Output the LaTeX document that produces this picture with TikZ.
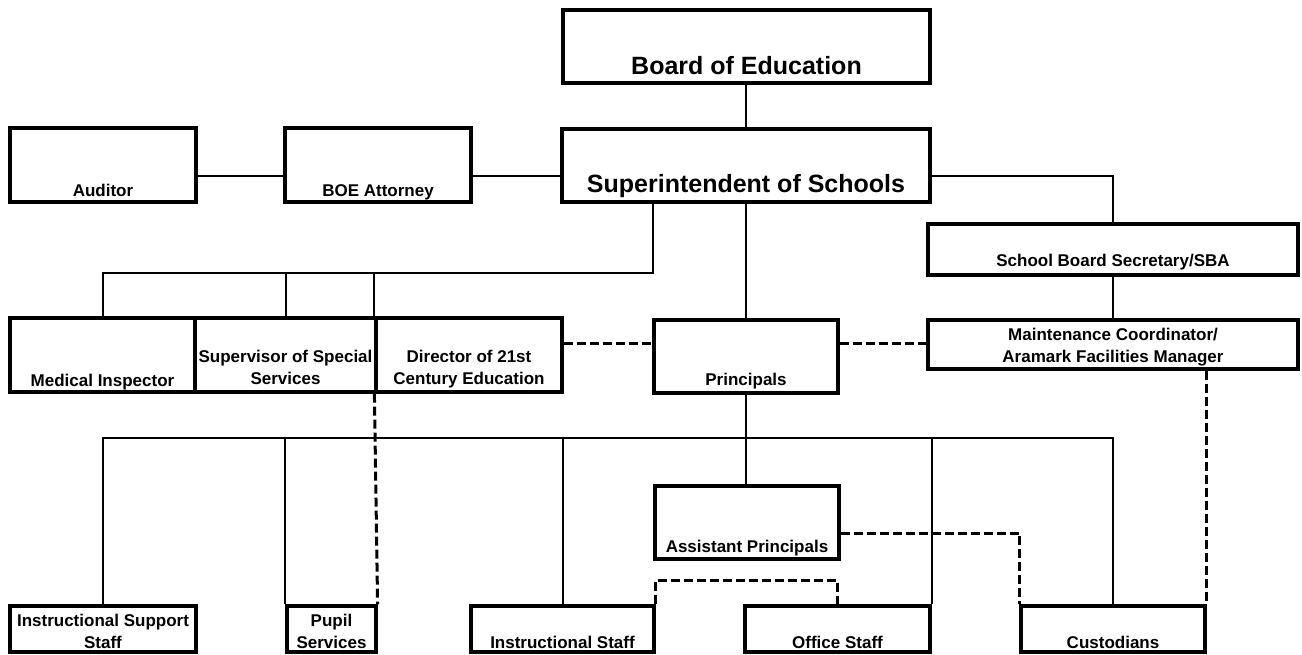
\documentclass[tikz,border=0pt]{standalone}
\usepackage{fontspec}
\setmainfont{Liberation Sans}
\begin{document}
\begin{tikzpicture}[x=1pt,y=-1pt,
  box/.style={draw, line width=3.2pt, inner sep=0pt, align=center,
    font=\fontsize{17}{22}\selectfont\bfseries},
  bigbox/.style={box, font=\fontsize{25}{30}\selectfont\bfseries},
  dims/.style n args={4}{minimum width=#1, minimum height=#2, text height=#3, text depth=#4},
  link/.style={line width=2pt},
  dotlink/.style={line width=3pt, dash pattern=on 9pt off 4pt}]
\useasboundingbox (0,0) rectangle (1302,655);

% top level
\node[bigbox, dims={367pt}{73pt}{65pt}{8pt}] (board) at (746.5,46.5) {Board of Education};
\node[bigbox, dims={368pt}{73pt}{64pt}{9pt}] (super) at (746,165.5) {Superintendent of Schools};
\node[box, dims={186pt}{74pt}{69pt}{5pt}] (auditor) at (103,165) {Auditor};
\node[box, dims={186pt}{74pt}{69pt}{5pt}] (attorney) at (378,165) {BOE Attorney};
\node[box, dims={370pt}{51pt}{43pt}{8pt}] (sbs) at (1113,249.5) {School Board Secretary/SBA};

% second level
\node[box, dims={185pt}{74pt}{68pt}{6pt}] (medical) at (102.5,355) {Medical Inspector};
\node[box, dims={181pt}{74pt}{66pt}{8pt}] (supervisor) at (285.5,355)
  {\begin{tabular}[b]{@{}c@{}}Supervisor of Special\\Services\end{tabular}};
\node[box, dims={186pt}{74pt}{66pt}{8pt}] (director) at (469,355)
  {\begin{tabular}[b]{@{}c@{}}Director of 21st\\Century Education\end{tabular}};
\node[box, dims={184pt}{73pt}{65pt}{8pt}] (principals) at (746,356.5) {Principals};
\node[box, dims={370pt}{49pt}{42pt}{7pt}] (maint) at (1113,344.5)
  {\begin{tabular}[b]{@{}c@{}}Maintenance Coordinator/\\Aramark Facilities Manager\end{tabular}};
\node[box, dims={184pt}{73pt}{66pt}{7pt}] (asst) at (747,522.5) {Assistant Principals};

% staff level
\node[box, dims={186pt}{46pt}{42pt}{4pt}] (isupport) at (103,629)
  {\begin{tabular}[b]{@{}c@{}}Instructional Support\\Staff\end{tabular}};
\node[box, dims={89pt}{46pt}{42pt}{4pt}] (pupil) at (331.5,629)
  {\begin{tabular}[b]{@{}c@{}}Pupil\\Services\end{tabular}};
\node[box, dims={183pt}{46pt}{42pt}{4pt}] (istaff) at (562.5,629) {Instructional Staff};
\node[box, dims={185pt}{46pt}{42pt}{4pt}] (office) at (837.5,629) {Office Staff};
\node[box, dims={184pt}{46pt}{42pt}{4pt}] (custodians) at (1113,629) {Custodians};

% solid reporting lines
\draw[link] (super.north |- board.south) -- (super.north);
\path ([yshift=-11pt]auditor.east) coordinate (a1);
\draw[link] (a1) -- (a1 -| attorney.west);
\draw[link] (a1 -| attorney.east) -- (a1 -| super.west);
\draw[link] (a1 -| super.east) -| (sbs.north);
\draw[link] (sbs.south) -- (maint.north);
\draw[link] (super.south) -- (principals.north);

\coordinate (sbranch) at (653,273);
\draw[link] ([xshift=-93pt]super.south) -- (sbranch) -| (medical.north);
\draw[link] (sbranch) -| (supervisor.north);
\draw[link] (sbranch) -| (director.north west);

\draw[link] (principals.south) -- (principals.south |- asst.north);
\coordinate (pbus) at (746,438);
\draw[link] (pbus) -| (isupport.north);
\draw[link] (pbus) -| (pupil.north west);
\draw[link] (pbus) -| (istaff.north);
\draw[link] (pbus) -| (office.north east);
\draw[link] (pbus) -| (custodians.north);

% dashed coordination lines
\path ([yshift=12pt]director.east) coordinate (d1);
\draw[dotlink] (d1) -- (d1 -| principals.west);
\draw[dotlink] (d1 -| principals.east) -- (d1 -| maint.west);
\draw[dotlink] (director.south west) -- (pupil.north east);
\draw[dotlink] (custodians.north east |- maint.south) -- (custodians.north east);
\draw[dotlink] ([yshift=-10.5pt]asst.east) -| (custodians.north west);
\draw[dotlink] (istaff.north east) -- ++(0,24pt) -| (office.north);
\end{tikzpicture}
\end{document}
